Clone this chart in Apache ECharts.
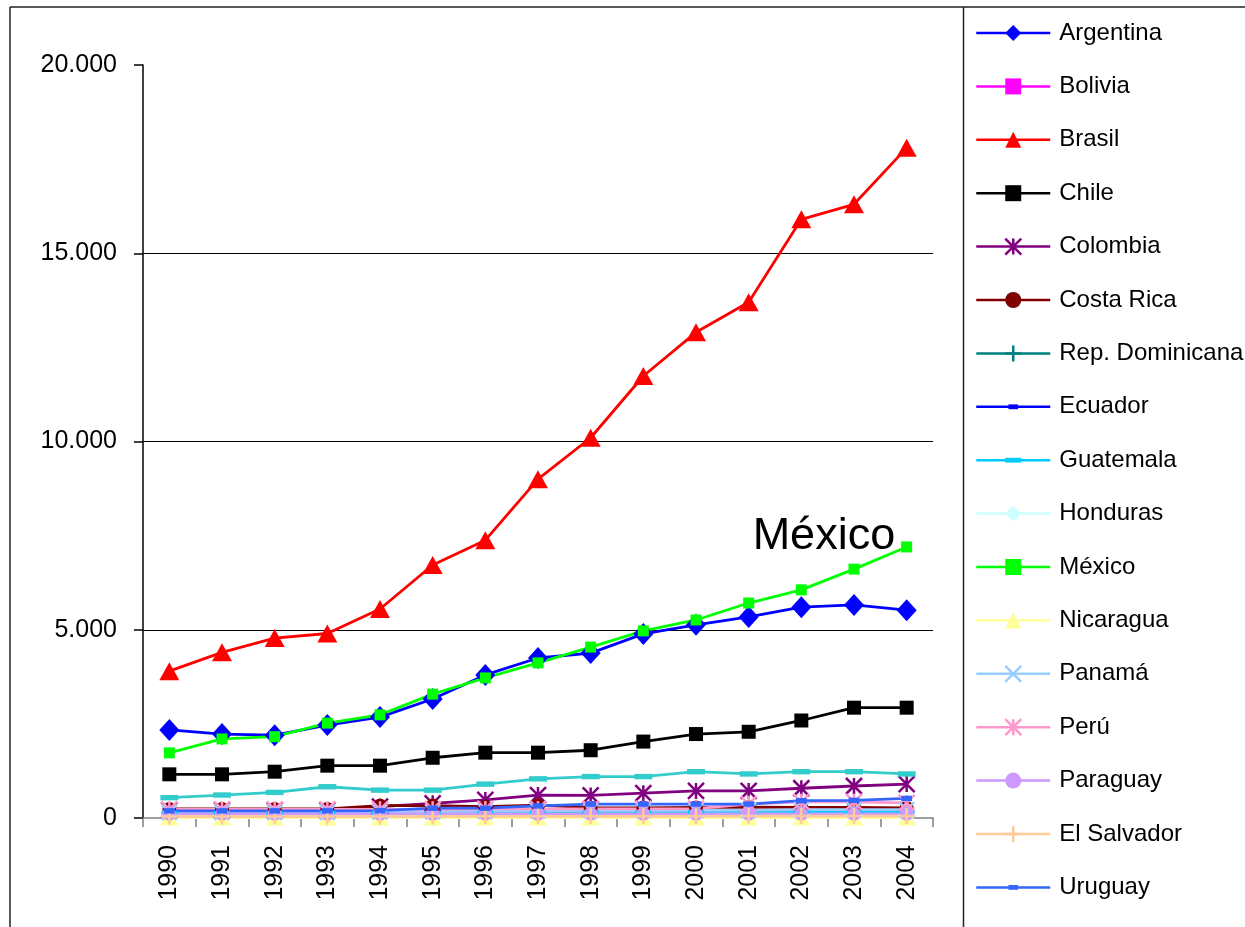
<!DOCTYPE html>
<html>
<head>
<meta charset="utf-8">
<script src="https://cdn.jsdelivr.net/npm/echarts@6/dist/echarts.min.js"></script>
<style>
  html, body { margin: 0; padding: 0; background: #fff; }
  #chart { width: 1245px; height: 927px; }
</style>
</head>
<body>
<div id="chart"></div>
<script>
// Years on the category axis
const years = ['1990','1991','1992','1993','1994','1995','1996','1997','1998','1999','2000','2001','2002','2003','2004'];

// Values per country, 1990-2004
const argentina = [2340, 2230, 2200, 2470, 2680, 3160, 3800, 4250, 4380, 4890, 5130, 5340, 5600, 5660, 5520];
const bolivia   = [50, 50, 50, 55, 55, 60, 60, 65, 65, 65, 70, 75, 80, 80, 80];
const brasil    = [3900, 4400, 4780, 4900, 5550, 6720, 7380, 9000, 10100, 11740, 12900, 13700, 15900, 16300, 17800];
const chile     = [1160, 1160, 1230, 1390, 1390, 1600, 1735, 1735, 1800, 2030, 2230, 2290, 2590, 2930, 2930];
const colombia  = [210, 210, 210, 210, 300, 390, 480, 610, 600, 660, 720, 720, 790, 850, 900];
const costaRica = [240, 240, 240, 240, 330, 330, 300, 340, 270, 270, 280, 290, 280, 280, 270];
const repDom    = [20, 20, 20, 20, 25, 25, 30, 30, 35, 35, 40, 40, 40, 40, 40];
const ecuador   = [90, 90, 90, 90, 100, 110, 120, 130, 130, 100, 100, 140, 150, 150, 150];
const guatemala = [120, 120, 120, 120, 125, 130, 135, 140, 145, 145, 150, 150, 155, 155, 160];
const honduras  = [40, 40, 40, 40, 45, 45, 50, 50, 50, 55, 55, 55, 60, 60, 60];
const mexico    = [1730, 2100, 2160, 2520, 2740, 3290, 3720, 4120, 4540, 4970, 5260, 5710, 6060, 6610, 7200];
const nicaragua = [10, 10, 10, 10, 10, 10, 10, 10, 10, 10, 10, 10, 10, 10, 10];
const panama    = [150, 150, 150, 150, 160, 170, 180, 190, 200, 200, 200, 210, 220, 220, 220];
const peru      = [230, 230, 230, 230, 230, 230, 240, 240, 240, 240, 250, 370, 430, 430, 400];
const paraguay  = [110, 110, 110, 110, 110, 110, 110, 110, 110, 110, 110, 110, 110, 110, 110];
const elSalvador= [40, 40, 40, 40, 40, 40, 45, 45, 45, 45, 45, 50, 50, 50, 50];
const uruguay   = [190, 190, 190, 190, 195, 260, 260, 320, 370, 370, 370, 370, 460, 470, 520];
const venezuela = [540, 610, 680, 830, 740, 740, 900, 1040, 1100, 1100, 1230, 1170, 1230, 1230, 1170];

// Axis tick values
const yTicks = [0, 5000, 10000, 15000, 20000];

const FONT = "'Liberation Sans', Arial, sans-serif";

// Marker shapes
const STAR  = 'path://M10,0L10,20M0,0L20,20M0,20L20,0';
const CROSS = 'path://M0,0L20,20M0,20L20,0';
const PLUS  = 'path://M10,0L10,20M0,10L20,10';
// short horizontal bar inside a square 20x20 box (corner points keep the box square)
const DASH_WIDE  = 'path://M0,0L0,0M20,20L20,20M0,7L20,7L20,13L0,13Z';
const DASH_SHORT = 'path://M0,0L0,0M20,20L20,20M4,7L16,7L16,13L4,13Z';

const seriesDefs = [
  { name: 'Argentina',       data: argentina,  color: '#0000FF', symbol: 'diamond',  size: [20, 22] },
  { name: 'Bolivia',         data: bolivia,    color: '#FF00FF', symbol: 'rect',     size: 11 },
  { name: 'Brasil',          data: brasil,     color: '#FF0000', symbol: 'triangle', size: [20, 18] },
  { name: 'Chile',           data: chile,      color: '#000000', symbol: 'rect',     size: 14 },
  { name: 'Colombia',        data: colombia,   color: '#800080', symbol: STAR,       size: 16, stroke: true },
  { name: 'Costa Rica',      data: costaRica,  color: '#800000', symbol: 'circle',   size: 14 },
  { name: 'Rep. Dominicana', data: repDom,     color: '#008080', symbol: PLUS,       size: 14, stroke: true },
  { name: 'Ecuador',         data: ecuador,    color: '#0000FF', symbol: DASH_SHORT, size: 16 },
  { name: 'Guatemala',       data: guatemala,  color: '#00CCFF', symbol: DASH_WIDE,  size: 16 },
  { name: 'Honduras',        data: honduras,   color: '#CCFFFF', symbol: 'diamond',  size: [18, 20] },
  { name: 'México',          data: mexico,     color: '#00FF00', symbol: 'rect',     size: 11 },
  { name: 'Nicaragua',       data: nicaragua,  color: '#FFFF99', symbol: 'triangle', size: [18, 16] },
  { name: 'Panamá',          data: panama,     color: '#99CCFF', symbol: CROSS,      size: 15, stroke: true },
  { name: 'Perú',            data: peru,       color: '#FF99CC', symbol: STAR,       size: 16, stroke: true },
  { name: 'Paraguay',        data: paraguay,   color: '#CC99FF', symbol: 'circle',   size: 14 },
  { name: 'El Salvador',     data: elSalvador, color: '#FFCC99', symbol: PLUS,       size: 16, stroke: true },
  { name: 'Uruguay',         data: uruguay,    color: '#3366FF', symbol: DASH_SHORT, size: 18 },
  { name: 'Venezuela',       data: venezuela,  color: '#33CCCC', symbol: DASH_WIDE,  size: 18, noLegend: true }
];

function thousands(v) {
  return String(v).replace(/\B(?=(\d{3})+(?!\d))/g, '.');
}

const series = seriesDefs.map(function (d) {
  const last = d.data.length - 1;
  const data = d.data.map(function (v, i) {
    if (d.name === 'México' && i === last) {
      return {
        value: v,
        label: {
          show: true,
          formatter: '{a}',
          position: 'left',
          distance: 6,
          offset: [0, -10],
          fontFamily: FONT,
          fontSize: 45,
          color: '#000'
        }
      };
    }
    return v;
  });
  return {
    name: d.name,
    type: 'line',
    data: data,
    symbol: d.symbol,
    symbolSize: d.size,
    showAllSymbol: true,
    lineStyle: { color: d.color, width: 2.8 },
    itemStyle: d.stroke
      ? { color: d.color, borderColor: d.color, borderWidth: 2.5 }
      : { color: d.color, borderWidth: 0 },
    emphasis: { disabled: true },
    animation: false
  };
});

const legendData = seriesDefs.filter(function (d) { return !d.noLegend; }).map(function (d) {
  return d.stroke
    ? { name: d.name, itemStyle: { color: d.color, borderColor: d.color, borderWidth: 2.5 } }
    : { name: d.name };
});

const chart = echarts.init(document.getElementById('chart'), null, { renderer: 'canvas' });

chart.setOption({
  backgroundColor: '#ffffff',
  animation: false,
  grid: { left: 143, right: 312, top: 65, bottom: 109, containLabel: false },
  legend: {
    orient: 'vertical',
    left: 975,
    top: 21,
    padding: 0,
    itemWidth: 74,
    itemHeight: 20,
    itemGap: 29.4,
    selectedMode: false,
    data: legendData,
    lineStyle: { width: 2.5 },
    textStyle: {
      fontFamily: FONT,
      fontSize: 24,
      color: '#000',
      padding: [0, 0, 0, 4]
    }
  },
  xAxis: {
    type: 'category',
    data: years,
    boundaryGap: true,
    axisLine: { lineStyle: { color: '#808080', width: 1.5 } },
    axisTick: { show: true, alignWithLabel: false, length: 9, lineStyle: { color: '#808080', width: 1.5 } },
    axisLabel: {
      rotate: 90,
      margin: 27,
      interval: 0,
      fontFamily: FONT,
      fontSize: 25,
      color: '#000'
    },
    splitLine: { show: false }
  },
  yAxis: {
    type: 'value',
    min: yTicks[0],
    max: yTicks[yTicks.length - 1],
    interval: yTicks[1] - yTicks[0],
    axisLine: { show: true, lineStyle: { color: '#000', width: 1.5 } },
    axisTick: { show: true, length: 9, lineStyle: { color: '#000', width: 1.5 } },
    axisLabel: {
      margin: 26,
      fontFamily: FONT,
      fontSize: 25,
      color: '#000',
      formatter: thousands
    },
    splitLine: { show: true, showMaxLine: false, showMinLine: false, lineStyle: { color: '#000', width: 1 } }
  },
  graphic: [
    // outer frame of the chart area
    { type: 'line', shape: { x1: 10, y1: 7, x2: 1245, y2: 7 }, style: { stroke: '#222', lineWidth: 1.5 }, silent: true },
    { type: 'line', shape: { x1: 10, y1: 7, x2: 10, y2: 927 }, style: { stroke: '#222', lineWidth: 1.5 }, silent: true },
    // legend box edge
    { type: 'line', shape: { x1: 963.5, y1: 7, x2: 963.5, y2: 927 }, style: { stroke: '#222', lineWidth: 1.5 }, silent: true }
  ],
  series: series
});
</script>
</body>
</html>
